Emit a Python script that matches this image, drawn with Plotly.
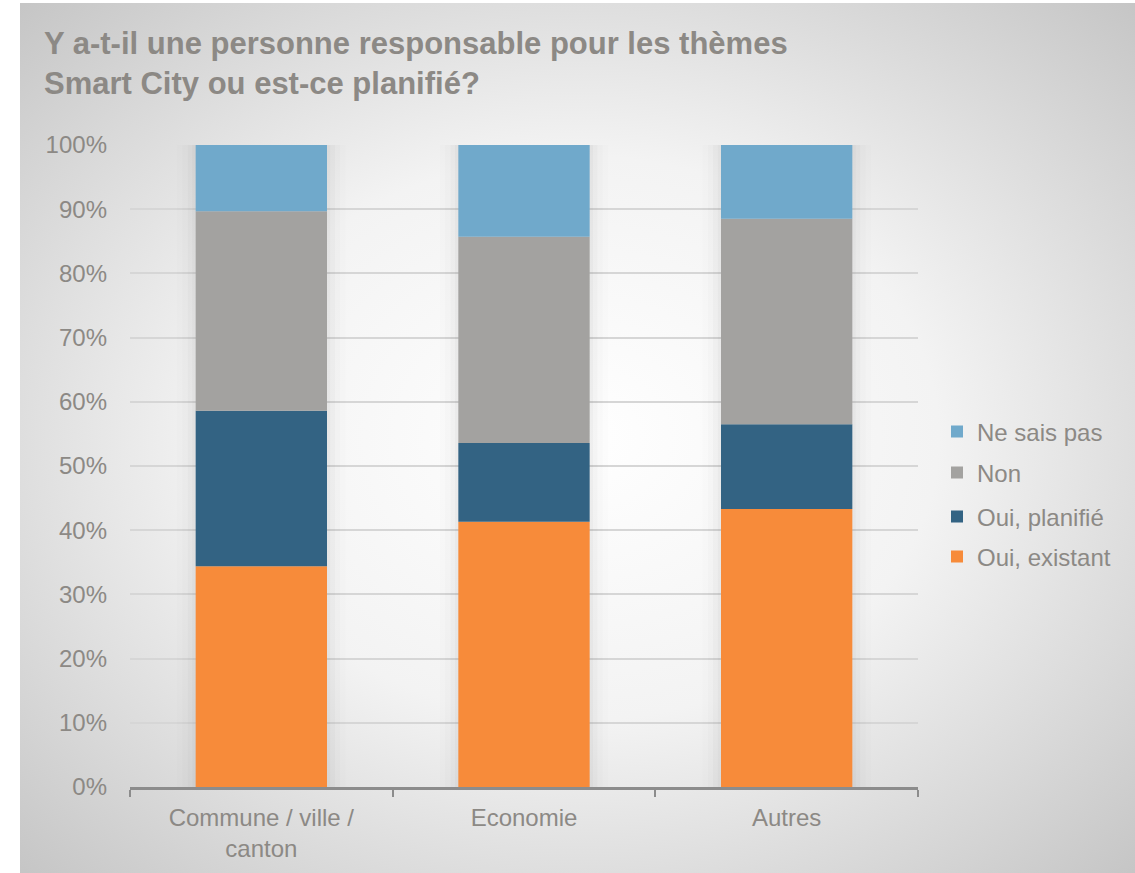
import base64
import plotly.graph_objects as go

# Survey answers, share of respondents (%) per domain
categories = ["Commune / ville /<br>canton", "Economie", "Autres"]
series_names = ["Oui, existant", "Oui, planifié", "Non", "Ne sais pas"]
oui_existant = [34.4, 41.3, 43.3]
oui_planifie = [24.2, 12.3, 13.2]
non = [31.1, 32.1, 32.0]
ne_sais_pas = [10.3, 14.3, 11.5]
y_tick_values = [0, 10, 20, 30, 40, 50, 60, 70, 80, 90, 100]
y_tick_labels = ["0%", "10%", "20%", "30%", "40%", "50%", "60%", "70%", "80%", "90%", "100%"]

colors = ["#F78B3A", "#336383", "#A3A2A0", "#70A9CB"]
text_color = "#8C8985"
font_family = "Liberation Sans, Arial, sans-serif"

values = [oui_existant, oui_planifie, non, ne_sais_pas]

W, H = 1135, 873
L, R, T, B = 130, 217, 145, 86
pw, ph = W - L - R, H - T - B

fig = go.Figure()

# soft drop shadow behind each stacked column
totals = [sum(v[i] for v in values) for i in range(len(categories))]
for w, a in [(0.64, 0.012), (0.60, 0.018), (0.56, 0.026), (0.525, 0.04)]:
    fig.add_trace(go.Bar(
        x=categories, y=totals, base=[0] * len(categories), width=w,
        marker=dict(color=f"rgba(90,90,90,{a})", line=dict(width=0)),
        showlegend=False, hoverinfo="skip",
    ))

# stacked segments with explicit bases; one legend box per series,
# stacked top-down in reverse order of the segments
legend_ids = ["legend4", "legend3", "legend2", "legend"]
legend_rows_px = [557, 517, 473, 432]
bases = [0.0] * len(categories)
for name, vals, col, lid in zip(series_names, values, colors, legend_ids):
    fig.add_trace(go.Bar(
        x=categories, y=vals, base=list(bases), name=name, width=0.5,
        marker=dict(color=col, line=dict(width=0)),
        legend=lid,
    ))
    bases = [b + v for b, v in zip(bases, vals)]

legend_style = dict(
    x=(937 - L) / pw, xanchor="left", yanchor="middle",
    font=dict(size=24, color=text_color, family=font_family),
    bgcolor="rgba(0,0,0,0)", itemwidth=30,
)
legend_layout = {
    lid: dict(legend_style, y=(H - B - ypx) / ph)
    for lid, ypx in zip(legend_ids, legend_rows_px)
}

# radial background behind the whole chart
svg = (
    '<svg xmlns="http://www.w3.org/2000/svg" width="1115" height="870">'
    '<defs><radialGradient id="g" cx="0.5" cy="0.5" r="0.72">'
    '<stop offset="0" stop-color="#FFFFFF"/>'
    '<stop offset="0.45" stop-color="#F3F3F3"/>'
    '<stop offset="1" stop-color="#C4C4C4"/>'
    '</radialGradient></defs>'
    '<rect width="1115" height="870" fill="url(#g)"/></svg>'
)
bg_uri = "data:image/svg+xml;base64," + base64.b64encode(svg.encode()).decode()

fig.add_layout_image(dict(
    source=bg_uri, xref="paper", yref="paper",
    x=(20 - L) / pw, y=(H - B - 3) / ph,
    sizex=1115 / pw, sizey=870 / ph,
    xanchor="left", yanchor="top", sizing="stretch", layer="below",
))

fig.update_layout(
    width=W, height=H,
    margin=dict(l=L, r=R, t=T, b=B, pad=0),
    barmode="overlay",
    paper_bgcolor="white",
    plot_bgcolor="rgba(0,0,0,0)",
    font=dict(family=font_family, color=text_color),
    title=dict(
        text="<b>Y a-t-il une personne responsable pour les thèmes<br>Smart City ou est-ce planifié?</b>",
        font=dict(size=31, color=text_color, family=font_family),
        xref="container", yref="container",
        x=44 / W, xanchor="left", y=1 - 54 / H, yanchor="top",
    ),
    xaxis=dict(
        type="category",
        showgrid=False,
        showline=True, linecolor="#8C8C8C", linewidth=2.5,
        ticks="outside", tickson="boundaries", ticklen=7, tickwidth=2, tickcolor="#8C8C8C",
        tickfont=dict(size=24, color=text_color),
        ticklabelstandoff=7,
        range=[-0.5, 2.5],
    ),
    yaxis=dict(
        range=[0, 100],
        tickvals=y_tick_values, ticktext=y_tick_labels,
        showgrid=True, gridcolor="#D6D6D6", gridwidth=1.5,
        zeroline=False, showline=False,
        ticks="", ticklabelstandoff=22,
        tickfont=dict(size=24, color=text_color),
    ),
    **legend_layout,
)

fig.write_html("out.html")
